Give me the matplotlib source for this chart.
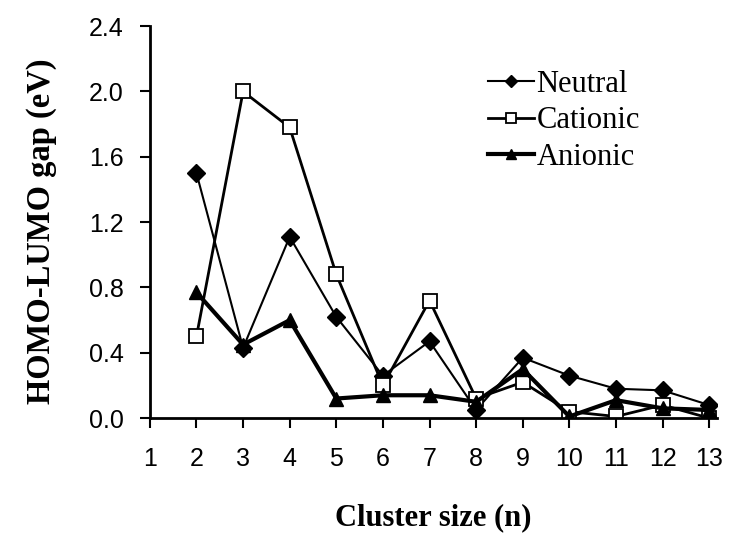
import matplotlib.pyplot as plt

sizes    = [2, 3, 4, 5, 6, 7, 8, 9, 10, 11, 12, 13]
neutral  = [1.50, 0.43, 1.11, 0.62, 0.26, 0.47, 0.05, 0.37, 0.26, 0.18, 0.17, 0.08]
cationic = [0.50, 2.00, 1.78, 0.88, 0.20, 0.72, 0.12, 0.22, 0.04, 0.01, 0.08, 0.00]
anionic  = [0.77, 0.45, 0.60, 0.12, 0.14, 0.14, 0.10, 0.30, 0.01, 0.11, 0.06, 0.05]

fig = plt.figure(figsize=(7.31, 5.34), dpi=100)
ax = fig.add_axes([0.205, 0.217, 0.776, 0.734])

ax.plot(sizes, neutral, color='black', lw=1.5, marker='D', ms=9,
        label='Neutral')
ax.plot(sizes, cationic, color='black', lw=2, marker='s', ms=10,
        markerfacecolor='white', markeredgewidth=1.3, label='Cationic')
ax.plot(sizes, anionic, color='black', lw=3, marker='^', ms=10,
        label='Anionic')

ax.set_xlim(1, 13.17)
ax.set_ylim(0, 2.4)
ax.set_xticks(range(1, 14))
ax.set_yticks([0, 0.4, 0.8, 1.2, 1.6, 2.0, 2.4])
ax.set_yticklabels(['0.0', '0.4', '0.8', '1.2', '1.6', '2.0', '2.4'])
for lab in ax.get_xticklabels() + ax.get_yticklabels():
    lab.set_family('Liberation Sans')
    lab.set_fontsize(18)
ax.tick_params(direction='out', length=7, width=1.5)
ax.tick_params(axis='x', pad=14)
ax.tick_params(axis='y', pad=12)

for side in ['top', 'right']:
    ax.spines[side].set_visible(False)
for side in ['left', 'bottom']:
    ax.spines[side].set_linewidth(2)

ax.set_xlabel('Cluster size (n)', family='Liberation Serif',
              fontweight='bold', fontsize=22, labelpad=23)
ax.set_ylabel('HOMO-LUMO gap (eV)', family='Liberation Serif',
              fontweight='bold', fontsize=23.5, labelpad=23)
ax.yaxis.label.set_y(0.477)

ax.legend(loc='upper left', bbox_to_anchor=(0.574, 0.92), frameon=False,
          prop={'family': 'Liberation Serif', 'size': 22},
          handlelength=1.5, handletextpad=0.1, labelspacing=0.25,
          borderaxespad=0, markerscale=0.7)

fig.savefig('out.png', dpi=100)
